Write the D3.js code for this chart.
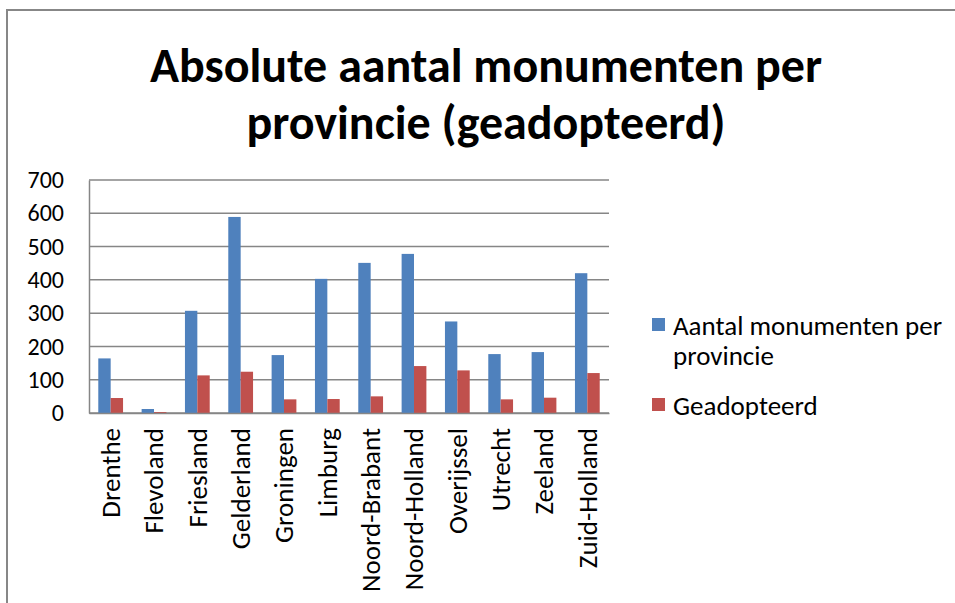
<!DOCTYPE html>
<html>
<head>
<meta charset="utf-8">
<script src="https://cdn.jsdelivr.net/npm/d3@7"></script>
<style>
  body { margin: 0; background: #fff; }
  text { font-family: Carlito, "Open Sans", "Noto Sans", sans-serif; fill: #000; }
</style>
</head>
<body>
<script>
var provinces = ["Drenthe", "Flevoland", "Friesland", "Gelderland", "Groningen", "Limburg",
                 "Noord-Brabant", "Noord-Holland", "Overijssel", "Utrecht", "Zeeland", "Zuid-Holland"];
var monuments = [164, 12, 307, 589, 174, 403, 451, 478, 275, 177, 183, 420];
var adopted = [45, 3, 113, 124, 41, 42, 50, 141, 128, 41, 46, 120];
var seriesNames = ["Aantal monumenten per provincie", "Geadopteerd"];
var seriesColors = ["#4F81BD", "#C0504D"];
var yTicks = [0, 100, 200, 300, 400, 500, 600, 700];

var W = 955, H = 603;
var margin = {top: 180, right: 346, bottom: 190, left: 89},
    w = W - margin.left - margin.right,
    h = H - margin.top - margin.bottom;

var svg = d3.select("body").append("svg")
    .attr("width", W)
    .attr("height", H);

// chart border (only top and left visible)
svg.append("path")
    .attr("d", "M7,603 V10 H955")
    .attr("fill", "none")
    .attr("stroke", "#878787")
    .attr("stroke-width", 2);

// title
var title = svg.append("text")
    .attr("text-anchor", "middle")
    .attr("font-weight", "bold")
    .attr("font-size", 48);
title.append("tspan").attr("x", 486).attr("y", 82).text("Absolute aantal monumenten per");
title.append("tspan").attr("x", 486).attr("y", 139).text("provincie (geadopteerd)");

var g = svg.append("g")
    .attr("transform", "translate(" + margin.left + "," + margin.top + ")");

/*Scales*/
var xScale = d3.scaleBand()
    .domain(provinces)
    .range([0, w])
    .paddingInner(0)
    .paddingOuter(0);
var x1 = d3.scaleBand()
    .domain([0, 1])
    .range([xScale.bandwidth() * 0.75 / 3.5, xScale.bandwidth() - xScale.bandwidth() * 0.75 / 3.5]);
var yScale = d3.scaleLinear()
    .domain([0, 700])
    .range([h, 0]);

/*Gridlines*/
g.selectAll(".grid")
    .data(yTicks)
    .enter().append("line")
    .attr("class", "grid")
    .attr("x1", 0)
    .attr("x2", w)
    .attr("y1", function(d){ return yScale(d); })
    .attr("y2", function(d){ return yScale(d); })
    .attr("stroke", "#868686")
    .attr("stroke-width", 1.5);

/*Bars*/
var groups = g.selectAll(".grp")
    .data(provinces)
    .enter().append("g")
    .attr("transform", function(d){ return "translate(" + xScale(d) + ",0)"; });

groups.selectAll("rect")
    .data(function(d, i){ return [monuments[i], adopted[i]]; })
    .enter().append("rect")
    .attr("x", function(d, j){ return x1(j); })
    .attr("width", x1.bandwidth())
    .attr("y", function(d){ return yScale(d); })
    .attr("height", function(d){ return h - yScale(d); })
    .attr("fill", function(d, j){ return seriesColors[j]; });

/*Axes*/
var yAxis = d3.axisLeft(yScale).tickValues(yTicks).tickSize(0).tickPadding(25);
var yG = g.append("g").call(yAxis);
yG.select(".domain").attr("stroke", "#868686").attr("stroke-width", 1.5);
yG.selectAll("text")
    .attr("font-size", 24)
    .attr("font-family", 'Carlito, "Open Sans", sans-serif')
    .attr("fill", "#000");

var xAxis = d3.axisBottom(xScale).tickSize(0).tickPadding(0);
var xG = g.append("g").attr("transform", "translate(0," + h + ")").call(xAxis);
xG.select(".domain").attr("stroke", "#868686").attr("stroke-width", 1.5);
xG.selectAll("text")
    .attr("font-size", 27)
    .attr("font-family", 'Carlito, "Open Sans", sans-serif')
    .attr("fill", "#000")
    .attr("text-anchor", "end")
    .attr("dy", "0.35em")
    .attr("transform", "translate(0,15) rotate(-90)");

/*Legend*/
var legend = svg.append("g").attr("transform", "translate(652,0)");
var legendRows = [{y: 318, lines: ["Aantal monumenten per", "provincie"]},
                  {y: 398, lines: ["Geadopteerd"]}];
legendRows.forEach(function(r, i){
    legend.append("rect")
        .attr("x", 0).attr("y", r.y)
        .attr("width", 13).attr("height", 13)
        .attr("fill", seriesColors[i]);
    var t = legend.append("text").attr("font-size", 27);
    r.lines.forEach(function(l, k){
        t.append("tspan").attr("x", 21).attr("y", r.y + 17 + k * 30).text(l);
    });
});
</script>
</body>
</html>
